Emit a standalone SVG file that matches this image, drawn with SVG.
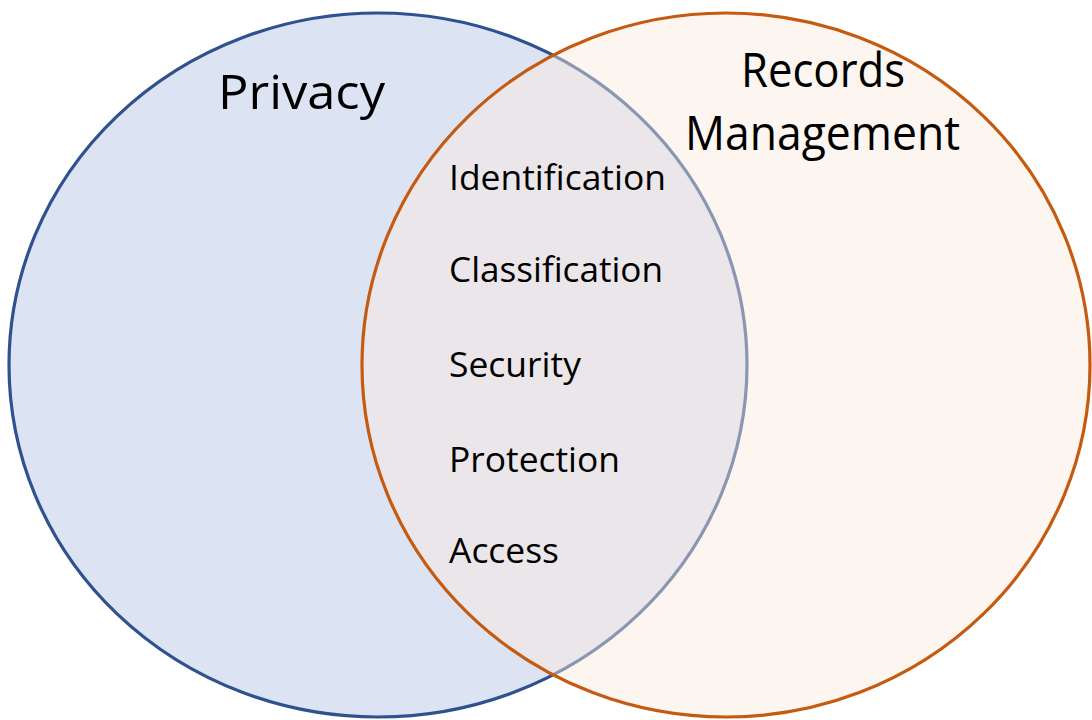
<svg xmlns="http://www.w3.org/2000/svg" width="1092" height="720" viewBox="0 0 1092 720">
<style>
text{font-family:"Open Sans","Noto Sans","Liberation Sans",sans-serif;fill:#000}
.item{font-size:35px}
.title{font-size:47px}
</style>
<rect width="1092" height="720" fill="#ffffff"/>
<g id="privacy">
<ellipse cx="378" cy="365" rx="369" ry="352" fill="#dce4f3" stroke="#2f528f" stroke-width="3.2"/>
<text class="title" x="218" y="109" textLength="167" lengthAdjust="spacingAndGlyphs">Privacy</text>
</g>
<g id="records">
<ellipse cx="726" cy="365" rx="364" ry="352" fill="#fbe9de" fill-opacity="0.45" stroke="#c55a11" stroke-width="3.2"/>
<text class="title" font-size="44" x="741" y="87" textLength="164" lengthAdjust="spacingAndGlyphs">Records</text>
<text class="title" font-size="44" x="685" y="150" textLength="275" lengthAdjust="spacingAndGlyphs">Management</text>
</g>
<g id="overlap">
<text class="item" x="449" y="190" textLength="217" lengthAdjust="spacingAndGlyphs">Identification</text>
<text class="item" x="449" y="282" textLength="214" lengthAdjust="spacingAndGlyphs">Classification</text>
<text class="item" x="449" y="377" textLength="132" lengthAdjust="spacingAndGlyphs">Security</text>
<text class="item" x="449" y="472" textLength="171" lengthAdjust="spacingAndGlyphs">Protection</text>
<text class="item" x="449" y="563" textLength="110" lengthAdjust="spacingAndGlyphs">Access</text>
</g>
<g id="connectors"/>
</svg>
